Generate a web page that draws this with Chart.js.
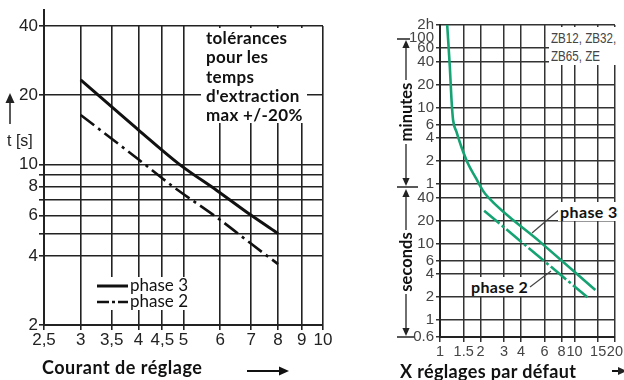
<!DOCTYPE html>
<html>
<head>
<meta charset="utf-8">
<script src="https://cdn.jsdelivr.net/npm/chart.js@4.4.1/dist/chart.umd.min.js"></script>
<style>
  body{margin:0;background:#fff;width:624px;height:380px;overflow:hidden;position:relative;font-family:Lato,'Noto Sans',sans-serif}
  canvas{position:absolute;left:0;top:0}
  .box{position:absolute;background:#fff}
  .bold{font-weight:700;color:#111;white-space:nowrap}
</style>
</head>
<body>
<canvas id="leftChart" width="624" height="380"></canvas>
<canvas id="rightChart" width="624" height="380"></canvas>

<!-- left chart overlays -->
<div class="box bold" style="left:201px;top:28px;width:106px;height:95px;font-size:17px;line-height:19.3px;letter-spacing:0.3px;padding-left:5px;box-sizing:border-box">tolérances<br>pour les<br>temps<br>d'extraction<br>max +/-20%</div>
<div class="box" style="left:95px;top:277px;width:92px;height:33px">
  <svg width="34" height="33" style="position:absolute;left:1px;top:0">
    <line x1="1" y1="9" x2="32" y2="9" stroke="#111" stroke-width="3"/>
    <line x1="1" y1="25" x2="32" y2="25" stroke="#111" stroke-width="2.5" stroke-dasharray="12,3,3,3"/>
  </svg>
  <div style="position:absolute;left:35px;top:0px;font-size:17px;line-height:16px;color:#111;white-space:nowrap">phase 3<br>phase 2</div>
</div>
<div class="bold" style="position:absolute;left:42px;top:356px;font-size:18px;letter-spacing:0.5px">Courant de réglage</div>
<div style="position:absolute;left:7px;top:132px;font-family:'Liberation Sans',Arial,sans-serif;font-size:16px;color:#222">t [s]</div>

<!-- right chart overlays -->
<div class="box" style="left:549px;top:27px;width:68px;height:38px;overflow:hidden">
  <div style="font-family:'Liberation Sans',Arial,sans-serif;font-size:14.5px;line-height:17.5px;color:#444;white-space:nowrap;transform:scaleX(0.8);transform-origin:0 0;margin:3px 0 0 2px">ZB12, ZB32,<br>ZB65, ZE</div>
</div>
<div class="box bold" style="left:558px;top:202px;width:60px;height:19px;font-size:16px;line-height:19px;letter-spacing:0.4px;padding-left:2px;box-sizing:border-box">phase 3</div>
<div class="box bold" style="left:471px;top:277px;width:58px;height:19px;font-size:16px;line-height:19px;letter-spacing:0.3px">phase 2</div>
<div class="bold" style="position:absolute;left:406px;top:112px;font-size:16.5px;transform:translate(-50%,-50%) rotate(-90deg)">minutes</div>
<div class="bold" style="position:absolute;left:406px;top:262px;font-size:16.5px;transform:translate(-50%,-50%) rotate(-90deg)">seconds</div>
<div class="bold" style="position:absolute;left:400px;top:360px;font-size:18px;letter-spacing:0.35px">X réglages par défaut</div>

<script>
// ---- left chart data (t in s vs setting current) ----
const leftXTicks = [2.5, 3, 3.5, 4, 4.5, 5, 6, 7, 8, 9, 10];
const leftYTicks = [2, 4, 5, 6, 7, 8, 9, 10, 20, 40];
const leftYLabels = [2, 4, 6, 8, 10, 20, 40];
const leftPhase3X = [3, 4, 4.9, 5.9, 7, 8];
const leftPhase3Y = [23.3, 14.1, 10, 7.7, 6.0, 5.0];
const leftPhase2X = [3, 4, 4.75, 6, 7, 8];
const leftPhase2Y = [16.4, 10.5, 8, 5.73, 4.51, 3.68];

// ---- right chart data (seconds vs multiple of setting) ----
const rightXTicks = [1, 1.5, 2, 3, 4, 6, 8, 10, 15, 20];
const rightYTicks = [0.6, 1, 2, 4, 6, 10, 20, 40, 60, 120, 240, 360, 600, 1200, 2400, 3600, 6000, 7200];
const rightYLabels = ['0.6', '1', '2', '4', '6', '10', '20', '40', '1', '2', '4', '6', '10', '20', '40', '60', '100', '2h'];
const rightPhase3X = [1.131, 1.183, 1.218, 1.251, 1.325, 1.441, 1.61, 1.855, 2.073, 2.258, 5.66, 14.29];
const rightPhase3Y = [7200, 2051, 752, 412, 290, 184, 112, 71, 50, 41, 10.2, 2.47];
const rightPhase2X = [2.13, 12.5];
const rightPhase2Y = [26.9, 1.98];

const green = '#16a374';
const tickFontRY = {family: "'Liberation Sans', Arial, sans-serif", size: 15};
const tickFontRX = {family: "'Liberation Sans', Arial, sans-serif", size: 14.5};
const pts = (xs, ys) => xs.map((x, i) => ({x, y: ys[i]}));

function arrowHead(ctx, x, y, dir, size){
  ctx.beginPath();
  if(dir === 'up'){ ctx.moveTo(x, y); ctx.lineTo(x - size*0.45, y + size); ctx.lineTo(x + size*0.45, y + size); }
  if(dir === 'down'){ ctx.moveTo(x, y); ctx.lineTo(x - size*0.45, y - size); ctx.lineTo(x + size*0.45, y - size); }
  if(dir === 'right'){ ctx.moveTo(x, y); ctx.lineTo(x - size, y - size*0.45); ctx.lineTo(x - size, y + size*0.45); }
  ctx.closePath(); ctx.fill();
}
function seg(ctx, x1, y1, x2, y2, w, c){
  ctx.beginPath(); ctx.lineWidth = w; ctx.strokeStyle = c; ctx.moveTo(x1, y1); ctx.lineTo(x2, y2); ctx.stroke();
}

const leftDeco = {
  id: 'leftDeco',
  afterDraw(chart){
    const ctx = chart.ctx;
    ctx.save();
    ctx.fillStyle = '#222';
    seg(ctx, 44, 9, 44, 27, 2, '#222');
    seg(ctx, 10, 124, 10, 100, 1.5, '#222');
    arrowHead(ctx, 10, 93, 'up', 10);
    seg(ctx, 247, 371, 281, 371, 2, '#111');
    ctx.fillStyle = '#111';
    arrowHead(ctx, 289, 371, 'right', 10);
    ctx.restore();
  }
};

const rightDeco = {
  id: 'rightDeco',
  afterDraw(chart){
    const ctx = chart.ctx;
    const y = chart.scales.y;
    ctx.save();
    // the "100" minute label sits a little under its log position in the original
    const i100 = rightYTicks.indexOf(6000);
    ctx.font = '15px "Liberation Sans", Arial, sans-serif';
    ctx.fillStyle = '#444'; ctx.textAlign = 'right'; ctx.textBaseline = 'middle';
    ctx.fillText(rightYLabels[i100], 434, y.getPixelForValue(6000) + 7);
    ctx.fillStyle = '#222';
    const ax = 406;
    // minutes range
    seg(ctx, 397, 39, 410, 39, 1.5, '#222');
    arrowHead(ctx, ax, 40, 'up', 8);
    seg(ctx, ax, 47, ax, 80, 1.3, '#222');
    seg(ctx, ax, 144, ax, 179, 1.3, '#222');
    arrowHead(ctx, ax, 186, 'down', 8);
    seg(ctx, 397, 187, 418, 187, 1.5, '#222');
    // seconds range
    arrowHead(ctx, ax, 189, 'up', 8);
    seg(ctx, ax, 196, ax, 230, 1.3, '#222');
    seg(ctx, ax, 294, ax, 329, 1.3, '#222');
    arrowHead(ctx, ax, 336, 'down', 8);
    seg(ctx, 397, 337, 414, 337, 1.5, '#222');
    // leader lines
    seg(ctx, 532, 233, 560, 209, 1.2, '#444');
    seg(ctx, 530, 287, 551, 271, 1.2, '#444');
    // x arrow
    seg(ctx, 612, 371, 620, 371, 2, '#111');
    arrowHead(ctx, 627, 371, 'right', 9);
    ctx.restore();
  }
};

new Chart(document.getElementById('leftChart'), {
  type: 'line',
  data: {
    datasets: [
      {label: 'phase 3', data: pts(leftPhase3X, leftPhase3Y), borderColor: '#111', borderWidth: 3, pointRadius: 0, cubicInterpolationMode: 'monotone', fill: false},
      {label: 'phase 2', data: pts(leftPhase2X, leftPhase2Y), borderColor: '#111', borderWidth: 2.6, borderDash: [17, 5, 3, 5], pointRadius: 0, cubicInterpolationMode: 'monotone', fill: false}
    ]
  },
  options: {
    responsive: false, animation: false,
    layout: {padding: {top: 26, right: 301, left: 0, bottom: 0}},
    plugins: {legend: {display: false}, tooltip: {enabled: false}},
    scales: {
      x: {
        type: 'logarithmic', min: 2.5, max: 10,
        afterBuildTicks: s => { s.ticks = leftXTicks.map(v => ({value: v})); },
        afterFit: s => { s.height = 55; },
        grid: {color: '#222', lineWidth: 1.6, tickLength: 5},
        border: {color: '#222', width: 2},
        ticks: {autoSkip: false, maxRotation: 0, padding: 0, color: '#222', font: {family: "'Liberation Sans', Arial, sans-serif", size: 17},
          callback: v => String(v).replace('.', ',')}
      },
      y: {
        type: 'logarithmic', min: 2, max: 40,
        afterBuildTicks: s => { s.ticks = leftYTicks.map(v => ({value: v})); },
        afterFit: s => { s.width = 44; },
        grid: {color: '#222', lineWidth: 1.6, tickLength: 5},
        border: {color: '#222', width: 2},
        ticks: {autoSkip: false, padding: 1, color: '#222', font: {family: "'Liberation Sans', Arial, sans-serif", size: 17},
          callback: v => leftYLabels.includes(v) ? String(v) : ''}
      }
    }
  },
  plugins: [leftDeco]
});

new Chart(document.getElementById('rightChart'), {
  type: 'line',
  data: {
    datasets: [
      {label: 'phase 3', data: pts(rightPhase3X, rightPhase3Y), borderColor: green, borderWidth: 2.6, pointRadius: 0, cubicInterpolationMode: 'monotone', fill: false},
      {label: 'phase 2', data: pts(rightPhase2X, rightPhase2Y), borderColor: green, borderWidth: 2.6, borderDash: [20, 3, 3, 3], pointRadius: 0, fill: false}
    ]
  },
  options: {
    responsive: false, animation: false,
    layout: {padding: {top: 25, right: 6, left: 0, bottom: 0}},
    plugins: {legend: {display: false}, tooltip: {enabled: false}},
    scales: {
      x: {
        type: 'logarithmic', min: 1, max: 20,
        afterBuildTicks: s => { s.ticks = rightXTicks.map(v => ({value: v})); },
        afterFit: s => { s.height = 43; },
        grid: {color: '#333', lineWidth: 1.5, tickLength: 5},
        border: {color: '#222', width: 2},
        ticks: {autoSkip: false, maxRotation: 0, padding: 1, color: '#444', font: tickFontRX,
          callback: v => String(v)}
      },
      y: {
        type: 'logarithmic', min: 0.6, max: 7200,
        afterBuildTicks: s => { s.ticks = rightYTicks.map(v => ({value: v})); },
        afterFit: s => { s.width = 440; },
        grid: {color: c => (c.tick && c.tick.value === 6000) ? 'rgba(0,0,0,0)' : '#333', lineWidth: 1.5, tickLength: 4},
        border: {color: '#222', width: 2},
        ticks: {autoSkip: false, padding: 2, color: '#444', font: tickFontRY,
          callback: v => v === 6000 ? '' : rightYLabels[rightYTicks.indexOf(v)]}
      }
    }
  },
  plugins: [rightDeco]
});
</script>
</body>
</html>
